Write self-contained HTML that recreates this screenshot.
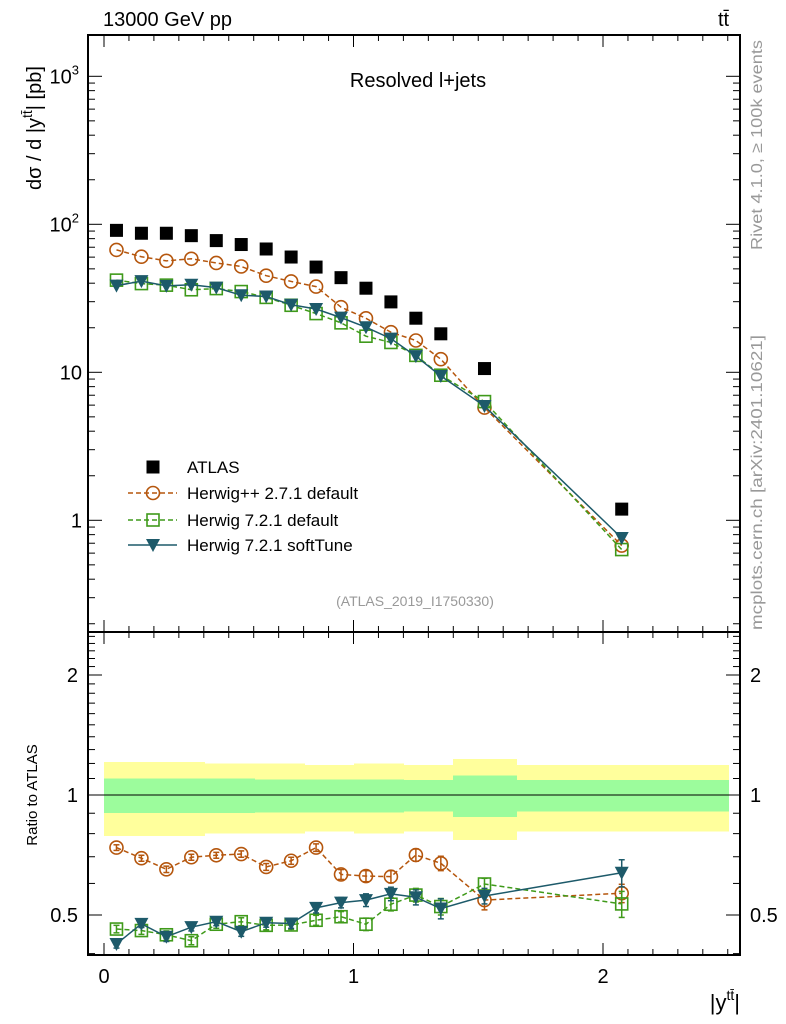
<!DOCTYPE html>
<html><head><meta charset="utf-8">
<style>
html,body{margin:0;padding:0;background:#fff;}
svg{display:block;font-family:"Liberation Sans",sans-serif;}
</style></head>
<body>
<svg id="chart" width="786" height="1024" viewBox="0 0 786 1024" xmlns="http://www.w3.org/2000/svg">
<g id="bands" shape-rendering="crispEdges"></g>
<g id="grid"></g>
<g id="series"></g>
<text x="103" y="26" font-size="20">13000 GeV pp</text>
<text x="718" y="26" font-size="20">tt̄</text>
<text x="418" y="87" font-size="20" text-anchor="middle">Resolved l+jets</text>
<text x="415" y="606" font-size="14" fill="#999" text-anchor="middle">(ATLAS_2019_I1750330)</text>
<text transform="translate(762,250) rotate(-90)" font-size="16" fill="#999" textLength="210" lengthAdjust="spacingAndGlyphs">Rivet 4.1.0, ≥ 100k events</text>
<text transform="translate(762,630) rotate(-90)" font-size="16" fill="#999" textLength="295" lengthAdjust="spacingAndGlyphs">mcplots.cern.ch [arXiv:2401.10621]</text>
<text transform="translate(41,190) rotate(-90)" font-size="20">dσ / d |y<tspan font-size="14" dy="-9">tt̄</tspan><tspan dy="9">| [pb]</tspan></text>
<text transform="translate(37,795) rotate(-90)" font-size="15" text-anchor="middle">Ratio to ATLAS</text>
<text x="740" y="1010" font-size="22" text-anchor="end">|y<tspan font-size="14" dy="-10">tt̄</tspan><tspan dy="10">|</tspan></text>
<g id="legend"></g>
</svg>
<script>
const binEdges=[0,0.1,0.2,0.3,0.4,0.5,0.6,0.7,0.8,0.9,1.0,1.1,1.2,1.3,1.4,1.65,2.5];
const centers=[0.05,0.15,0.25,0.35,0.45,0.55,0.65,0.75,0.85,0.95,1.05,1.15,1.25,1.35,1.525,2.075];
const atlas=[91,87,87,83.8,77.6,73,68.1,60.1,51.4,43.6,37,29.9,23.2,18.2,10.6,1.19];
const ratioHpp=[0.738,0.694,0.651,0.698,0.706,0.711,0.660,0.684,0.738,0.632,0.626,0.624,0.707,0.674,0.545,0.567];
const ratioH72=[0.461,0.457,0.446,0.431,0.474,0.481,0.471,0.472,0.485,0.495,0.474,0.532,0.561,0.525,0.598,0.533];
const ratioSoft=[0.423,0.475,0.441,0.466,0.481,0.454,0.478,0.476,0.521,0.537,0.545,0.565,0.554,0.519,0.558,0.638];
const errHpp=[0.012,0.012,0.012,0.012,0.012,0.013,0.013,0.014,0.016,0.018,0.02,0.022,0.025,0.028,0.03,0.03];
const errH72=[0.01,0.01,0.01,0.01,0.011,0.011,0.012,0.012,0.014,0.015,0.017,0.02,0.022,0.025,0.02,0.04];
const errSoft=[0.01,0.01,0.012,0.01,0.011,0.012,0.012,0.013,0.015,0.016,0.02,0.022,0.024,0.03,0.025,0.05];
const bandGreen=[0.10,0.10,0.10,0.10,0.10,0.10,0.095,0.095,0.095,0.095,0.095,0.095,0.09,0.09,0.12,0.09];
const bandYellow=[0.21,0.21,0.21,0.21,0.20,0.20,0.20,0.20,0.19,0.19,0.20,0.20,0.19,0.19,0.23,0.19];

const NS="http://www.w3.org/2000/svg";
const X=v=>104+249.5*v;
const Y=v=>224.3-148*(Math.log10(v)-2);
const R=r=>795-398.6*Math.log10(r);
function mk(parent,tag,attrs){const e=document.createElementNS(NS,tag);for(const k in attrs)e.setAttribute(k,attrs[k]);document.getElementById(parent).appendChild(e);return e;}

for(let i=0;i<centers.length;i++){
  const x0=Math.round(X(binEdges[i])),x1=Math.min(Math.round(X(binEdges[i+1])),730);
  let e=mk('bands','rect',{x:x0,y:R(1+bandYellow[i]),width:x1-x0+1,height:R(1-bandYellow[i])-R(1+bandYellow[i]),fill:'#ffff9c'});
  
  
}
for(let i=0;i<centers.length;i++){
  const x0=Math.round(X(binEdges[i])),x1=Math.min(Math.round(X(binEdges[i+1])),730);
  let e=mk('bands','rect',{x:x0,y:R(1+bandGreen[i]),width:x1-x0+1,height:R(1-bandGreen[i])-R(1+bandGreen[i]),fill:'#9cfc9c'});
  
  
}
mk('bands','line',{x1:88,x2:740,y1:R(1),y2:R(1),stroke:'#000','stroke-width':1.3});

mk('grid','rect',{x:88,y:35,width:652,height:597,fill:'none',stroke:'#000','stroke-width':2});
mk('grid','rect',{x:88,y:632,width:652,height:323,fill:'none',stroke:'#000','stroke-width':2});
for(let k=0;k<=25;k++){
  const v=k/10,x=X(v),L=(k%10===0)?12:6;
  for(const [yb,yt] of [[955,35],[632,632]]){
    mk('grid','line',{x1:x,x2:x,y1:yb,y2:yb-L,stroke:'#000','stroke-width':1});
    mk('grid','line',{x1:x,x2:x,y1:yt,y2:yt+L,stroke:'#000','stroke-width':1});
  }
}
['0','1','2'].forEach((t,i)=>{const e=mk('grid','text',{x:X(i),y:983,'font-size':20,'text-anchor':'middle'});e.textContent=t;});
for(let d=-1;d<=3;d++){for(let m=1;m<=9;m++){
  const v=m*Math.pow(10,d),y=Y(v);if(y<36||y>631)continue;
  const L=m===1?14:7;
  mk('grid','line',{x1:88,x2:88+L,y1:y,y2:y,stroke:'#000','stroke-width':1});
  mk('grid','line',{x1:740,x2:740-L,y1:y,y2:y,stroke:'#000','stroke-width':1});
}}
const ylab=[[1,'1'],[10,'10'],[100,'10<tspan font-size="13" dy="-9">2</tspan>'],[1000,'10<tspan font-size="13" dy="-9">3</tspan>']];
ylab.forEach(([v,t])=>{const e=mk('grid','text',{x:v>=100?79:82,y:Y(v)+7,'font-size':20,'text-anchor':'end'});e.innerHTML=t;});
const rt=[0.4,0.5,0.6,0.7,0.8,0.9,1,1.1,1.2,1.3,1.4,1.5,1.6,1.7,1.8,1.9,2,2.1,2.2,2.3,2.4,2.5];
rt.forEach(v=>{const y=R(v);if(y<633||y>954)return;const L=(v===0.5||v===1||v===2)?14:7;
  mk('grid','line',{x1:88,x2:88+L,y1:y,y2:y,stroke:'#000','stroke-width':1});
  mk('grid','line',{x1:740,x2:740-L,y1:y,y2:y,stroke:'#000','stroke-width':1});});
[[0.5,'0.5'],[1,'1'],[2,'2']].forEach(([v,t])=>{
  let e=mk('grid','text',{x:78,y:R(v)+7,'font-size':20,'text-anchor':'end'});e.textContent=t;
  e=mk('grid','text',{x:750,y:R(v)+7,'font-size':20});e.textContent=t;});

const CO='#b5560d',CG='#3f9a1a',CB='#1d5a6a';
function marker(g,type,x,y,c){
  if(type==='sq') return mk(g,'rect',{x:x-6.5,y:y-6.5,width:13,height:13,fill:'#000'});
  if(type==='circ') return mk(g,'circle',{cx:x,cy:y,r:6.5,fill:'none',stroke:c,'stroke-width':1.6});
  if(type==='box') return mk(g,'rect',{x:x-6,y:y-6,width:12,height:12,fill:'none',stroke:c,'stroke-width':1.6});
  return mk(g,'path',{d:`M${x-7},${y-6}L${x+7},${y-6}L${x},${y+7}Z`,fill:c});
}
function series(ratio,err,c,type,dash,name){
  const ptsM=centers.map((v,i)=>X(v)+','+Y(atlas[i]*ratio[i])).join(' ');
  let e=mk('series','polyline',{points:ptsM,fill:'none',stroke:c,'stroke-width':1.5,'stroke-dasharray':dash});
  
  
  const ptsR=centers.map((v,i)=>X(v)+','+R(ratio[i])).join(' ');
  e=mk('series','polyline',{points:ptsR,fill:'none',stroke:c,'stroke-width':1.5,'stroke-dasharray':dash});
  
  
  centers.forEach((v,i)=>{
    const x=X(v);
    const yt=R(ratio[i]+err[i]),yb=R(ratio[i]-err[i]);
    mk('series','line',{x1:x,x2:x,y1:yt,y2:yb,stroke:c,'stroke-width':1.5});
    mk('series','line',{x1:x-3,x2:x+3,y1:yt,y2:yt,stroke:c,'stroke-width':1.5});
    mk('series','line',{x1:x-3,x2:x+3,y1:yb,y2:yb,stroke:c,'stroke-width':1.5});
    let m=marker('series',type,x,Y(atlas[i]*ratio[i]),c);
    
    
    m=marker('series',type,x,R(ratio[i]),c);
    
    
  });
}
series(ratioHpp,errHpp,CO,'circ','5,3','herwigpp');
series(ratioH72,errH72,CG,'box','5,3','herwig72');
series(ratioSoft,errSoft,CB,'tri','','softtune');
centers.forEach((v,i)=>{const m=marker('series','sq',X(v),Y(atlas[i]),'#000');
  
  });

const leg=[['ATLAS','sq','#000',null,467],['Herwig++ 2.7.1 default','circ',CO,'5,3',493],['Herwig 7.2.1 default','box',CG,'5,3',520],['Herwig 7.2.1 softTune','tri',CB,'',545]];
leg.forEach(([t,type,c,dash,y])=>{
  if(dash!==null) mk('legend','line',{x1:128,x2:177,y1:y,y2:y,stroke:c,'stroke-width':1.5,'stroke-dasharray':dash});
  marker('legend',type,153,y,c);
  const e=mk('legend','text',{x:187,y:y+6,'font-size':17});e.textContent=t;
  
  
});
</script>
</body></html>
